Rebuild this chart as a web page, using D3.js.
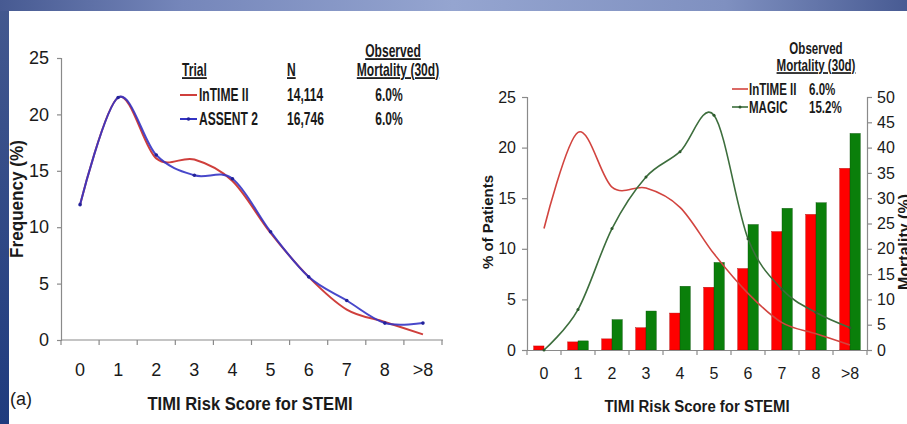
<!DOCTYPE html>
<html>
<head>
<meta charset="utf-8">
<script src="https://cdn.jsdelivr.net/npm/d3@7/dist/d3.min.js"></script>
<style>
  html, body { margin: 0; padding: 0; background: #ffffff; }
  svg { display: block; }
  text { font-family: "Liberation Sans", Arial, sans-serif; fill: #1a1a1a; }
</style>
</head>
<body>
<svg id="chart" width="907" height="424"></svg>
<script>
// TIMI risk score categories
const riskScores = ["0", "1", "2", "3", "4", "5", "6", "7", "8", ">8"];
const freqTicks = [0, 5, 10, 15, 20, 25];
const mortTicks = [0, 5, 10, 15, 20, 25, 30, 35, 40, 45, 50];

// Distribution of patients across risk scores (%)
const intimeFreq = [12.0, 21.5, 16.1, 16.0, 14.1, 9.5, 5.6, 2.7, 1.6, 0.5];
const assentFreq = [12.0, 21.5, 16.4, 14.6, 14.3, 9.6, 5.6, 3.5, 1.5, 1.5];
const magicFreq  = [0.0, 4.0, 12.0, 17.1, 19.6, 23.2, 11.0, 6.0, 3.7, 2.2];

// 30-day mortality by risk score (%)
const intimeMort = [0.8, 1.6, 2.2, 4.4, 7.3, 12.4, 16.1, 23.4, 26.8, 35.9];
const magicMort  = [0.0, 1.8, 6.0, 7.7, 12.6, 17.3, 24.8, 28.0, 29.1, 42.8];

// Legend tables
const leftTrials = ["InTIME II", "ASSENT 2"];
const leftN = ["14,114", "16,746"];
const leftMort = ["6.0%", "6.0%"];
const rightTrials = ["InTIME II", "MAGIC"];
const rightMort = ["6.0%", "15.2%"];

const svg = d3.select("#chart");
const W = 907, H = 424;

// ---- frame: white slide with a blue gradient border top and left ----
const defs = svg.append("defs");
const gTop = defs.append("linearGradient").attr("id", "gTop").attr("x1", 0).attr("x2", 1).attr("y1", 0).attr("y2", 0);
[[0, "#475a92"], [0.2, "#7586ba"], [0.5, "#95a5d0"], [0.8, "#7f90c0"], [1, "#485b93"]]
  .forEach(([o, c]) => gTop.append("stop").attr("offset", o).attr("stop-color", c));
const gLeft = defs.append("linearGradient").attr("id", "gLeft").attr("x1", 0).attr("x2", 0).attr("y1", 0).attr("y2", 1);
[[0, "#44598f"], [1, "#1f3b7e"]]
  .forEach(([o, c]) => gLeft.append("stop").attr("offset", o).attr("stop-color", c));

svg.append("rect").attr("width", W).attr("height", H).attr("fill", "#ffffff");
svg.append("rect").attr("x", 0).attr("y", 0).attr("width", 9).attr("height", H).attr("fill", "url(#gLeft)");
svg.append("rect").attr("x", 0).attr("y", 0).attr("width", W).attr("height", 11).attr("fill", "url(#gTop)");

// text helper: horizontal compression + optional rotation
function label(g, s, x, y, o = {}) {
  const sx = o.sx || 1;
  const tr = `translate(${x},${y})` + (o.rot ? ` rotate(${o.rot})` : "") + ` scale(${sx},1)`;
  return g.append("text")
    .attr("transform", tr)
    .attr("text-anchor", o.anchor || "start")
    .attr("font-size", o.size || 14)
    .attr("font-weight", o.bold ? "bold" : "normal")
    .style("text-decoration", o.underline ? "underline" : null)
    .text(s);
}

const axisColor = "#8a8a8a";

function styleAxis(g) {
  g.selectAll(".domain").attr("stroke", axisColor).attr("stroke-width", 1.2);
  g.selectAll(".tick line").attr("stroke", axisColor).attr("stroke-width", 1.2);
}

function boundaryTicks(g, x, y0, len) {
  const pos = x.domain().map(d => x(d)).concat([x.range()[1]]);
  g.selectAll("line.bt").data(pos).join("line")
    .attr("class", "bt")
    .attr("x1", d => d).attr("x2", d => d)
    .attr("y1", y0).attr("y2", y0 + len)
    .attr("stroke", axisColor).attr("stroke-width", 1.2);
}

const smooth = d3.curveCardinal.tension(0);

// ================= LEFT PANEL: frequency distribution =================
{
  const g = svg.append("g");
  const x = d3.scaleBand().domain(riskScores).range([61, 442]).padding(0);
  const y = d3.scaleLinear().domain([0, 25]).range([340, 58]);
  const cx = d => x(d) + x.bandwidth() / 2;

  const ya = g.append("g").attr("transform", "translate(61,0)")
    .call(d3.axisLeft(y).tickValues(freqTicks).tickSize(4).tickPadding(8).tickFormat(d3.format("d")));
  styleAxis(ya);
  ya.selectAll("text").attr("font-size", 18).attr("fill", "#1a1a1a").attr("font-family", "Liberation Sans, Arial, sans-serif");

  const xa = g.append("g").attr("transform", "translate(0,340)")
    .call(d3.axisBottom(x).tickSize(0).tickPadding(23));
  styleAxis(xa);
  xa.select(".domain").attr("d", `M61,0H443`);
  xa.selectAll("text").attr("font-size", 18).attr("fill", "#1a1a1a").attr("font-family", "Liberation Sans, Arial, sans-serif");
  boundaryTicks(g, x, 340, 5);

  const line = d3.line().x((d, i) => cx(riskScores[i])).y(d => y(d)).curve(smooth);
  g.append("path").datum(intimeFreq).attr("d", line)
    .attr("fill", "none").attr("stroke", "#cf3f3c").attr("stroke-width", 2);
  g.append("path").datum(assentFreq).attr("d", line)
    .attr("fill", "none").attr("stroke", "#3434c4").attr("stroke-width", 2).attr("stroke-opacity", 0.9);
  g.selectAll("circle.as").data(assentFreq).join("circle").attr("class", "as")
    .attr("cx", (d, i) => cx(riskScores[i])).attr("cy", d => y(d)).attr("r", 1.8).attr("fill", "#22229a");

  // titles
  label(g, "TIMI Risk Score for STEMI", 250, 410, { size: 18, bold: true, anchor: "middle", sx: 0.92 });
  label(g, "(a)", 10, 405, { size: 18 });
  label(g, "Frequency (%)", 23, 199, { size: 18, bold: true, anchor: "middle", rot: -90, sx: 0.95 });

  // legend table
  const L = g.append("g");
  const lsx = 0.67, lsz = 18;
  label(L, "Observed", 393, 57, { size: lsz, bold: true, anchor: "middle", sx: lsx, underline: true });
  label(L, "Trial", 182, 76, { size: lsz, bold: true, sx: lsx, underline: true });
  label(L, "N", 287, 76, { size: lsz, bold: true, sx: lsx, underline: true });
  label(L, "Mortality (30d)", 398, 76, { size: lsz, bold: true, anchor: "middle", sx: lsx, underline: true });
  const rowY = [101, 125];
  const rowColor = ["#cf3f3c", "#3434c4"];
  leftTrials.forEach((t, i) => {
    L.append("line").attr("x1", 180).attr("x2", 197).attr("y1", rowY[i] - 6).attr("y2", rowY[i] - 6)
      .attr("stroke", rowColor[i]).attr("stroke-width", 2);
    if (i === 1) L.append("circle").attr("cx", 188.5).attr("cy", rowY[i] - 6).attr("r", 1.8).attr("fill", "#22229a");
    label(L, t, 199, rowY[i], { size: lsz, bold: true, sx: lsx });
    label(L, leftN[i], 287, rowY[i], { size: lsz, bold: true, sx: lsx });
    label(L, leftMort[i], 389, rowY[i], { size: lsz, bold: true, anchor: "middle", sx: lsx });
  });
}

// ================= RIGHT PANEL: distribution + mortality =================
{
  const g = svg.append("g");
  const x = d3.scaleBand().domain(riskScores).range([527, 867]).padding(0);
  const xs = d3.scaleBand().domain(["InTIME II", "MAGIC"]).range([0, x.bandwidth()]).paddingInner(0).paddingOuter(0.65);
  const yL = d3.scaleLinear().domain([0, 25]).range([350, 97]);
  const yR = d3.scaleLinear().domain([0, 50]).range([350, 97]);
  const cx = d => x(d) + x.bandwidth() / 2;

  // mortality bars (right axis)
  const rows = riskScores.map((r, i) => ({ r, a: intimeMort[i], b: magicMort[i] }));
  const bars = g.append("g");
  bars.selectAll("rect.ri").data(rows).join("rect").attr("class", "ri")
    .attr("x", d => x(d.r) + xs("InTIME II")).attr("width", xs.bandwidth())
    .attr("y", d => yR(d.a)).attr("height", d => yR(0) - yR(d.a))
    .attr("fill", "#ff0000").attr("stroke", "#b00000").attr("stroke-width", 0.4);
  bars.selectAll("rect.gm").data(rows.filter(d => d.b > 0)).join("rect").attr("class", "gm")
    .attr("x", d => x(d.r) + xs("MAGIC")).attr("width", xs.bandwidth())
    .attr("y", d => yR(d.b)).attr("height", d => yR(0) - yR(d.b))
    .attr("fill", "#0a7f0a").attr("stroke", "#055005").attr("stroke-width", 0.4);

  // axes
  const ya = g.append("g").attr("transform", "translate(527,0)")
    .call(d3.axisLeft(yL).tickValues(freqTicks).tickSize(5).tickPadding(6).tickFormat(d3.format("d")));
  styleAxis(ya);
  ya.selectAll("text").attr("font-size", 16).attr("fill", "#1a1a1a").attr("font-family", "Liberation Sans, Arial, sans-serif");

  const yb = g.append("g").attr("transform", "translate(867,0)")
    .call(d3.axisRight(yR).tickValues(mortTicks).tickSize(5).tickPadding(5).tickFormat(d3.format("d")));
  styleAxis(yb);
  yb.selectAll("text").attr("font-size", 16).attr("fill", "#1a1a1a").attr("font-family", "Liberation Sans, Arial, sans-serif");

  const xa = g.append("g").attr("transform", "translate(0,350)")
    .call(d3.axisBottom(x).tickSize(0).tickPadding(18));
  styleAxis(xa);
  xa.selectAll("text").attr("font-size", 16).attr("fill", "#1a1a1a").attr("font-family", "Liberation Sans, Arial, sans-serif");
  boundaryTicks(g, x, 350, 5);

  // distribution lines (left axis)
  const line = d3.line().x((d, i) => cx(riskScores[i])).y(d => yL(d)).curve(smooth);
  g.append("path").datum(intimeFreq).attr("d", line)
    .attr("fill", "none").attr("stroke", "#d2443f").attr("stroke-width", 1.6);
  g.append("path").datum(magicFreq).attr("d", line)
    .attr("fill", "none").attr("stroke", "#3d6e3d").attr("stroke-width", 1.6);
  g.selectAll("circle.mg").data(magicFreq).join("circle").attr("class", "mg")
    .attr("cx", (d, i) => cx(riskScores[i])).attr("cy", d => yL(d)).attr("r", 1.5).attr("fill", "#2d5a2d");

  // titles
  label(g, "TIMI Risk Score for STEMI", 697, 412, { size: 17, bold: true, anchor: "middle", sx: 0.88 });
  label(g, "% of Patients", 493, 222, { size: 15, bold: true, anchor: "middle", rot: -90 });
  label(g, "Mortality (%)", 910, 242, { size: 16, bold: true, anchor: "middle", rot: -90 });

  // legend
  const L = g.append("g");
  const rsx = 0.68, rsz = 17;
  label(L, "Observed", 816, 54, { size: rsz, bold: true, anchor: "middle", sx: rsx });
  label(L, "Mortality (30d)", 816, 71, { size: rsz, bold: true, anchor: "middle", sx: rsx, underline: true });
  const rowY = [95, 113];
  const rowColor = ["#d2443f", "#3d6e3d"];
  rightTrials.forEach((t, i) => {
    L.append("line").attr("x1", 732).attr("x2", 748).attr("y1", rowY[i] - 6).attr("y2", rowY[i] - 6)
      .attr("stroke", rowColor[i]).attr("stroke-width", 1.6);
    if (i === 1) L.append("circle").attr("cx", 740).attr("cy", rowY[i] - 6).attr("r", 1.5).attr("fill", "#2d5a2d");
    label(L, t, 749, rowY[i], { size: rsz, bold: true, sx: rsx });
    label(L, rightMort[i], 809, rowY[i], { size: rsz, bold: true, sx: rsx });
  });
}
</script>
</body>
</html>
